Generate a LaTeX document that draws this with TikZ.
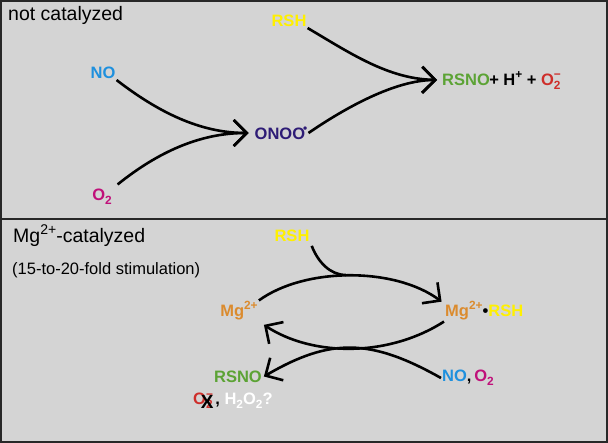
\documentclass[tikz,border=0pt]{standalone}
\usepackage{fontspec}
\setmainfont{Liberation Sans}
\usepackage{graphicx}
\usepackage{tikz}
\usetikzlibrary{arrows.meta, positioning}
\definecolor{cPanel}{RGB}{212,212,212}
\definecolor{cFrame}{RGB}{40,40,40}
\definecolor{cYellow}{RGB}{255,240,0}
\definecolor{cBlue}{RGB}{30,144,222}
\definecolor{cMagenta}{RGB}{192,16,122}
\definecolor{cNavy}{RGB}{46,28,118}
\definecolor{cGreen}{RGB}{92,163,53}
\definecolor{cRed}{RGB}{206,46,42}
\definecolor{cOrange}{RGB}{219,139,46}
\newcommand{\chemup}[1]{\raisebox{0.42em}{\scalebox{0.72}{#1}}}
\newcommand{\chemdn}[1]{\raisebox{-0.22em}{\scalebox{0.72}{#1}}}
\tikzset{
	heading/.style ={anchor=base west, inner sep=0pt, font=\fontsize{19.5}{22}\selectfont},
	remark/.style  ={anchor=base west, inner sep=0pt, font=\fontsize{16.5}{19}\selectfont},
	species/.style ={inner sep=1pt, font=\fontsize{16.5}{19}\selectfont\bfseries},
	rxnarrow/.style={-{Straight Barb[length=13pt, width=26pt]}, line width=2.6pt},
	rxnline/.style ={line width=2.6pt},
}

\begin{document}
\begin{tikzpicture}[x=1pt, y=-1pt]
	\useasboundingbox (0,0) rectangle (608,443);
	\fill[cPanel] (0,0) rectangle (608,443);
	\draw[cFrame, line width=2pt] (1,1) rectangle (607,442);
	\draw[cFrame, line width=2pt] (1,219.5) -- (607,219.5);
	% not catalyzed
	\node[heading] (lbltop) at (8,21) {not catalyzed};
	\node[species, text=cYellow] (rsh1) at (289,21) {RSH};
	\node[species, text=cBlue] (no1) at (103,73) {NO};
	\node[species, text=cMagenta] (ox1) at (102,197) {O\chemdn{2}};
	\node[species, text=cNavy] (onoo) at (281,133) {ONOO\kern-2pt\chemup{\textbullet}};
	\node[species, text=cGreen, anchor=west] (rsno1) at (441,80) {RSNO};
	\node[species, base right=-3pt of rsno1] (side1) {+ H\chemup{+} + \textcolor{cRed}{O\rlap{\chemdn{2}}\chemup{−}}};
	\draw[rxnarrow, shorten >=5pt] (no1.south east) .. controls (158,112) and (200,133) .. (onoo.west);
	\draw[rxnarrow, shorten <=6pt, shorten >=5pt] (ox1.north east) .. controls (158,152) and (200,133) .. (onoo.west);
	\draw[rxnarrow, shorten >=4pt] (onoo.east) .. controls (345,108) and (395,80) .. (rsno1.west);
	\draw[rxnarrow, shorten >=4pt] (rsh1.south east) .. controls (350,53) and (388,79) .. (rsno1.west);
	% Mg-catalyzed
	\node[heading] (lblbot) at (13,243) {Mg\chemup{2+}-catalyzed};
	\node[remark] (lblfold) at (12,275) {(15-to-20-fold stimulation)};
	\node[species, text=cYellow] (rsh2) at (292,236) {RSH};
	\node[species, text=cOrange] (mg1) at (239,311) {Mg\chemup{2+}};
	\node[species, anchor=west] (mg2) at (444,311) {\textcolor{cOrange}{Mg\chemup{2+}}\textbullet\textcolor{cYellow}{RSH}};
	\node[species, text=cGreen] (rsno2) at (238,377) {RSNO};
	\node[species, anchor=west] (noox) at (441,378) {\textcolor{cBlue}{NO},\,\textcolor{cMagenta}{O\chemdn{2}}};
	\node[species, text=cRed, anchor=west] (o2m) at (192,401) {O\rlap{\chemdn{2}}\chemup{−}};
	\node[inner sep=0pt, font=\fontsize{19}{19}\selectfont\bfseries, xshift=4pt, yshift=-1pt] (xmark) at (o2m.center) {X};
	\node[species, base right=0pt of o2m] (h2o2) {,\ \textcolor{white}{H\chemdn{2}O\chemdn{2}?}};
	\coordinate (meet) at (346,275);
	\draw[rxnline, shorten <=3pt] (rsh2.south east) .. controls (318,262) and (330,275) .. (meet);
	\draw[rxnarrow, shorten >=3pt] (mg1.north east) .. controls (305,267) and (395,267) .. ([yshift=-3pt]mg2.north west);
	\draw[rxnarrow, shorten >=6pt] (mg2.south west) .. controls (389,357) and (313,357) .. (mg1.south east);
	\draw[rxnarrow, shorten >=1pt] (noox.west) .. controls (370,338) and (330,338) .. (rsno2.east);
\end{tikzpicture}
\end{document}
